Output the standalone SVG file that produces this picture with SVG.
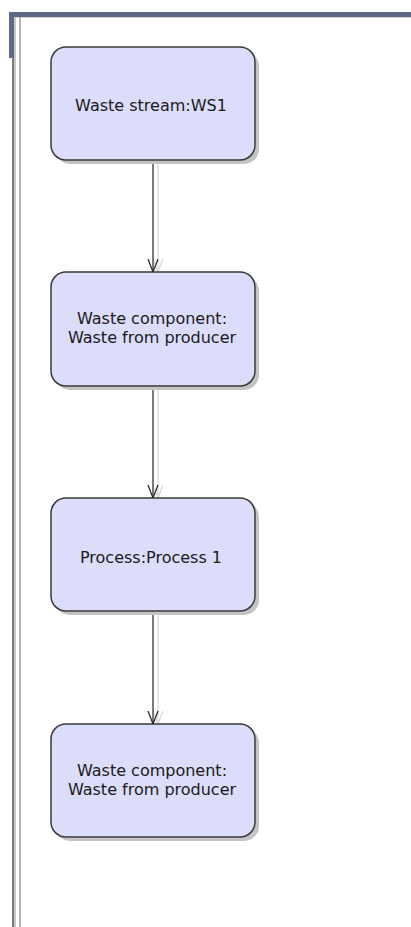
<svg xmlns="http://www.w3.org/2000/svg" width="411" height="927" viewBox="0 0 411 927">
<style>
.shadow{fill:#c4c4c4}
.box{fill:#dcdcfb;stroke:#3a3a3a;stroke-width:1.5}
.lbl{font-family:"DejaVu Sans",sans-serif;font-size:16px;fill:#1a1a1a;text-anchor:middle}
.edge{stroke:#222;stroke-width:1.2;fill:none}
.eshadow{stroke:#d8d8d8;stroke-width:1.2;fill:none}
</style>
<defs>
<marker id="arr" markerWidth="16" markerHeight="14" refX="14" refY="7" orient="auto" markerUnits="userSpaceOnUse" viewBox="0 0 16 14">
<path d="M1,2 L14,7 L1,12" fill="none" stroke="#222" stroke-width="1.2"/>
</marker>
<marker id="arrs" markerWidth="16" markerHeight="14" refX="14" refY="7" orient="auto" markerUnits="userSpaceOnUse" viewBox="0 0 16 14">
<path d="M1,2 L14,7 L1,12" fill="none" stroke="#d8d8d8" stroke-width="1.2"/>
</marker>
</defs>
<rect x="0" y="0" width="411" height="927" fill="#fff"/>
<g id="frame">
<rect x="9" y="12" width="402" height="5" fill="#5f6886"/>
<rect x="14" y="17" width="397" height="1" fill="#d4d4d4"/>
<rect x="9" y="12" width="5" height="46" fill="#5f6886"/>
<rect x="12" y="58" width="3" height="869" fill="#7a7a7a"/>
<rect x="14" y="17" width="2" height="910" fill="#c8c8c8"/>
<rect x="19" y="17" width="2" height="910" fill="#b4b4b4"/>
</g>
<g id="connectors">
<line class="eshadow" x1="158" y1="164" x2="158" y2="272" marker-end="url(#arrs)"/>
<line class="edge" x1="153" y1="160" x2="153" y2="272" marker-end="url(#arr)"/>
<line class="eshadow" x1="158" y1="390" x2="158" y2="498" marker-end="url(#arrs)"/>
<line class="edge" x1="153" y1="386" x2="153" y2="498" marker-end="url(#arr)"/>
<line class="eshadow" x1="158" y1="615" x2="158" y2="724" marker-end="url(#arrs)"/>
<line class="edge" x1="153" y1="611" x2="153" y2="724" marker-end="url(#arr)"/>
</g>
<g id="node1">
<rect class="shadow" x="55" y="51" width="204" height="113" rx="15"/>
<rect class="box" x="51" y="47" width="204" height="113" rx="15"/>
<text class="lbl" x="151" y="111">Waste stream:WS1</text>
</g>
<g id="node2">
<rect class="shadow" x="55" y="276" width="204" height="114" rx="15"/>
<rect class="box" x="51" y="272" width="204" height="114" rx="15"/>
<text class="lbl" x="152" y="324">Waste component:</text>
<text class="lbl" x="152" y="343">Waste from producer</text>
</g>
<g id="node3">
<rect class="shadow" x="55" y="502" width="204" height="113" rx="15"/>
<rect class="box" x="51" y="498" width="204" height="113" rx="15"/>
<text class="lbl" x="151" y="563">Process:Process 1</text>
</g>
<g id="node4">
<rect class="shadow" x="55" y="728" width="204" height="113" rx="15"/>
<rect class="box" x="51" y="724" width="204" height="113" rx="15"/>
<text class="lbl" x="152" y="776">Waste component:</text>
<text class="lbl" x="152" y="795">Waste from producer</text>
</g>
</svg>
